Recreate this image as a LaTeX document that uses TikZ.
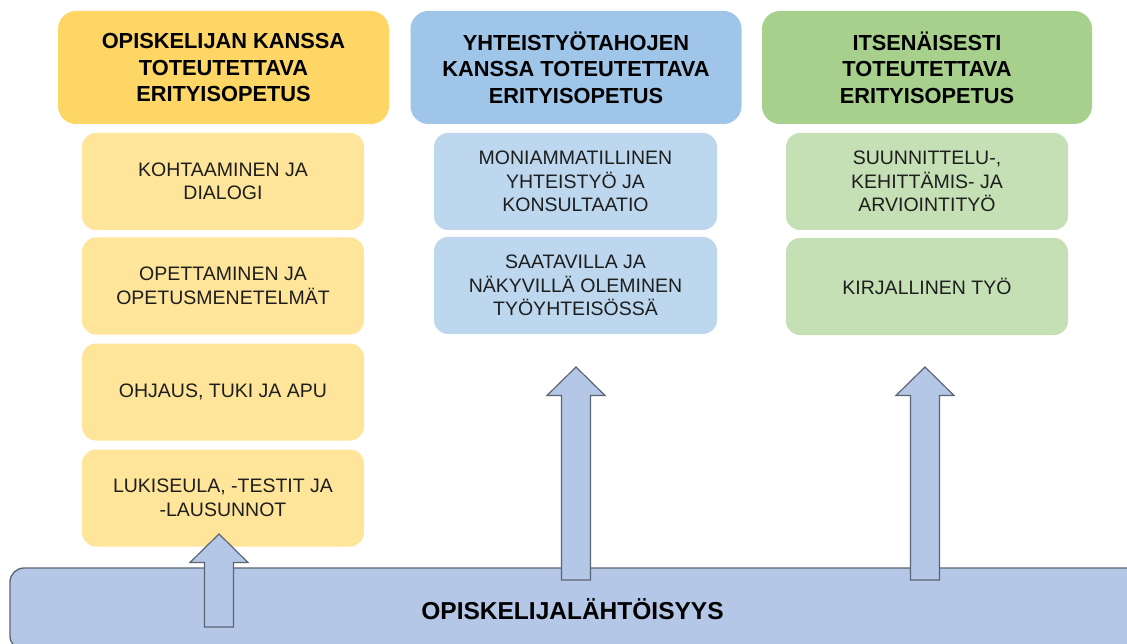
\documentclass[tikz,border=0pt]{standalone}
\usepackage{fontspec}
\setmainfont{Liberation Sans}
\definecolor{yhead}{HTML}{FDD666}
\definecolor{yitem}{HTML}{FFE599}
\definecolor{bhead}{HTML}{9FC5E8}
\definecolor{bitem}{HTML}{BDD7EE}
\definecolor{ghead}{HTML}{A8D08D}
\definecolor{gitem}{HTML}{C5E0B4}
\definecolor{barfill}{HTML}{B4C7E7}
\definecolor{edgegray}{HTML}{5B6573}
\definecolor{txt}{HTML}{1E1E1E}
\newcommand{\blockup}[3]{%
  \draw[blockarr] (#1,#2) -- ({#1+29},{#2+28.5}) -- ({#1+14.5},{#2+28.5}) -- ({#1+14.5},#3)
    -- ({#1-14.5},#3) -- ({#1-14.5},{#2+28.5}) -- ({#1-29},{#2+28.5}) -- cycle;}
\begin{document}
\begin{tikzpicture}[x=1pt,y=-1pt,
  headbox/.style={rounded corners=18pt, minimum width=331pt, minimum height=113pt,
    align=center, text=black, inner sep=0pt,
    font=\fontsize{21.8}{26.5}\selectfont\bfseries},
  itembox/.style={rounded corners=14pt, minimum width=282pt, minimum height=97pt,
    align=center, text=txt, inner sep=0pt,
    font=\fontsize{19.5}{23.5}\selectfont},
  barbox/.style={rounded corners=14pt, fill=barfill, draw=edgegray, line width=1.3pt,
    minimum width=1190pt, minimum height=82pt, inner sep=0pt},
  bartext/.style={text=black, inner sep=0pt, font=\fontsize{24.5}{28}\selectfont\bfseries},
  blockarr/.style={fill=barfill, draw=edgegray, line width=1.2pt, line join=miter}
]
\useasboundingbox (0,0) rectangle (1127,644);
\clip (0,0) rectangle (1127,644);
\fill[white] (0,0) rectangle (1127,644);

% headers
\node[headbox, fill=yhead] (h1) at (223.5,67.5) {OPISKELIJAN KANSSA\\TOTEUTETTAVA\\ERITYISOPETUS};
\node[headbox, fill=bhead] (h2) at (576,67.5) {YHTEISTYÖTAHOJEN\\KANSSA TOTEUTETTAVA\\ERITYISOPETUS};
\node[headbox, fill=ghead, minimum width=330pt] (h3) at (927,67.5) {ITSENÄISESTI\\TOTEUTETTAVA\\ERITYISOPETUS};

% left column
\node[itembox, fill=yitem] (l1) at (223,181.5) {KOHTAAMINEN JA\\DIALOGI};
\node[itembox, fill=yitem] (l2) at (223,286) {OPETTAMINEN JA\\OPETUSMENETELMÄT};
\node[itembox, fill=yitem] (l3) at (223,392) {OHJAUS, TUKI JA APU};
\node[itembox, fill=yitem] (l4) at (223,498) {LUKISEULA, -TESTIT JA\\-LAUSUNNOT};

% middle column
\node[itembox, fill=bitem, minimum width=283pt] (m1) at (575.5,181.5) {MONIAMMATILLINEN\\YHTEISTYÖ JA\\KONSULTAATIO};
\node[itembox, fill=bitem, minimum width=283pt] (m2) at (575.5,285.5) {SAATAVILLA JA\\NÄKYVILLÄ OLEMINEN\\TYÖYHTEISÖSSÄ};

% right column
\node[itembox, fill=gitem] (r1) at (927,181.5) {SUUNNITTELU-,\\KEHITTÄMIS- JA\\ARVIOINTITYÖ};
\node[itembox, fill=gitem] (r2) at (927,286.5) {KIRJALLINEN TYÖ};

% base bar
\node[barbox] (base) at (605,609) {};
\node[bartext] (basetext) at (572.5,609) {OPISKELIJALÄHTÖISYYS};

% block arrows
\blockup{219}{534}{627}
\blockup{576}{367}{580}
\blockup{925}{367}{580}
\end{tikzpicture}
\end{document}
